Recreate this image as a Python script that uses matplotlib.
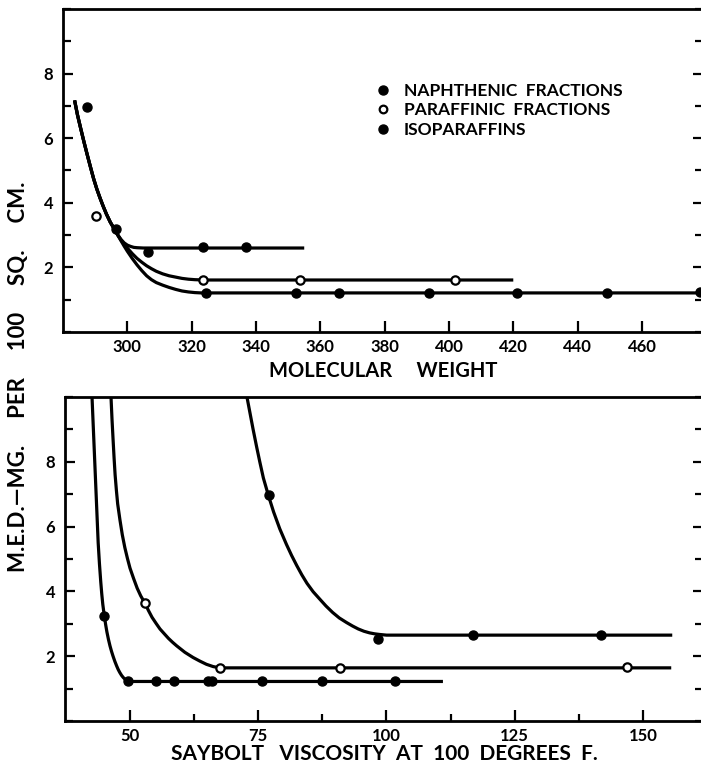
import numpy as np
import matplotlib
matplotlib.use("Agg")
import matplotlib.pyplot as plt
from matplotlib.lines import Line2D
from matplotlib.ticker import MultipleLocator

plt.rcParams['font.family'] = ['Lato', 'DejaVu Sans']
plt.rcParams['font.weight'] = 'bold'

# ---- upper panel: molecular weight ----
mw_naph_x = [287.4, 296.6, 306.5, 323.4, 337.0]
mw_naph_y = [6.97, 3.20, 2.47, 2.62, 2.62]
mw_para_x = [290.4, 323.4, 353.8, 402.0]
mw_para_y = [3.60, 1.62, 1.62, 1.62]
mw_iso_x = [324.6, 352.3, 365.8, 393.8, 421.2, 449.0, 478.0]
mw_iso_y = [1.22, 1.22, 1.22, 1.22, 1.22, 1.22, 1.24]

# fitted curves
mw_naph_curve_x = [283.6, 284.5, 285.5, 286.5, 287.5, 288.5, 289.5, 290.5, 291.5, 292.5, 293.5, 294.7, 296.0, 297.0, 298.0, 299.0, 300.0, 301.0, 302.0, 303.0, 305.0, 355.0]
mw_naph_curve_y = [7.17, 6.72, 6.30, 5.89, 5.50, 5.12, 4.75, 4.43, 4.15, 3.89, 3.65, 3.40, 3.18, 3.01, 2.87, 2.76, 2.69, 2.65, 2.62, 2.61, 2.60, 2.60]
mw_para_curve_x = [283.6, 284.5, 285.5, 286.5, 287.5, 288.5, 289.5, 290.5, 291.5, 292.5, 293.5, 294.7, 296.0, 297.0, 298.0, 299.0, 300.0, 301.5, 303.0, 304.5, 306.0, 307.5, 309.0, 311.0, 313.0, 315.0, 317.0, 319.0, 321.0, 324.0, 420.0]
mw_para_curve_y = [7.17, 6.72, 6.30, 5.89, 5.50, 5.12, 4.75, 4.43, 4.15, 3.89, 3.65, 3.40, 3.18, 3.01, 2.85, 2.72, 2.60, 2.43, 2.28, 2.16, 2.05, 1.96, 1.88, 1.80, 1.74, 1.70, 1.66, 1.635, 1.62, 1.61, 1.61]
mw_iso_curve_x = [283.6, 284.5, 285.5, 286.5, 287.5, 288.5, 289.5, 290.5, 291.5, 292.5, 293.5, 294.7, 296.0, 297.0, 298.0, 299.0, 300.0, 301.5, 303.0, 304.5, 306.0, 307.5, 309.0, 311.0, 313.0, 315.0, 317.0, 319.0, 321.0, 323.0, 325.0, 479.0]
mw_iso_curve_y = [7.17, 6.72, 6.30, 5.89, 5.50, 5.12, 4.75, 4.43, 4.15, 3.89, 3.65, 3.40, 3.18, 3.00, 2.83, 2.66, 2.50, 2.28, 2.08, 1.90, 1.74, 1.62, 1.53, 1.45, 1.38, 1.32, 1.27, 1.24, 1.22, 1.21, 1.21, 1.21]

# ---- lower panel: Saybolt viscosity ----
vis_naph_x = [77.1, 98.3, 116.8, 141.9]
vis_naph_y = [6.98, 2.53, 2.66, 2.66]
vis_para_x = [53.0, 67.6, 90.9, 146.9]
vis_para_y = [3.64, 1.63, 1.63, 1.66]
vis_iso_x = [45.0, 49.7, 55.1, 58.6, 65.2, 66.0, 75.7, 87.4, 101.6]
vis_iso_y = [3.24, 1.22, 1.22, 1.22, 1.22, 1.22, 1.22, 1.22, 1.22]

vis_naph_curve_x = [72.8, 73.4, 74.0, 74.7, 75.3, 76.0, 77.0, 78.0, 79.2, 80.5, 81.5, 82.5, 83.5, 84.5, 85.7, 87.0, 88.2, 89.5, 90.8, 92.2, 93.4, 94.5, 95.6, 96.7, 97.7, 98.7, 100.0, 155.7]
vis_naph_curve_y = [10.0, 9.50, 9.00, 8.45, 8.00, 7.50, 6.95, 6.45, 5.93, 5.45, 5.11, 4.80, 4.51, 4.25, 3.99, 3.76, 3.55, 3.35, 3.18, 3.04, 2.93, 2.84, 2.77, 2.72, 2.69, 2.67, 2.65, 2.65]
vis_para_curve_x = [46.3, 46.5, 46.7, 46.9, 47.1, 47.35, 47.6, 48.05, 48.5, 49.0, 49.5, 50.0, 50.7, 51.4, 52.1, 52.9, 53.6, 54.3, 55.1, 55.85, 56.7, 57.5, 58.3, 59.1, 59.9, 60.7, 61.5, 62.3, 63.6, 64.9, 66.2, 67.5, 155.5]
vis_para_curve_y = [10.0, 9.30, 8.70, 8.12, 7.60, 7.12, 6.70, 6.20, 5.75, 5.35, 5.02, 4.72, 4.40, 4.10, 3.86, 3.64, 3.41, 3.20, 3.01, 2.84, 2.69, 2.55, 2.43, 2.32, 2.22, 2.12, 2.04, 1.96, 1.85, 1.75, 1.68, 1.64, 1.64]
vis_iso_curve_x = [42.6, 42.8, 43.0, 43.2, 43.4, 43.6, 43.8, 44.05, 44.3, 44.5, 44.7, 44.85, 45.0, 45.25, 45.5, 45.8, 46.1, 46.4, 46.7, 47.05, 47.4, 47.7, 48.0, 48.35, 48.7, 49.1, 49.5, 50.0, 111.0]
vis_iso_curve_y = [10.0, 9.25, 8.50, 7.75, 7.00, 6.25, 5.50, 4.85, 4.30, 3.92, 3.60, 3.42, 3.25, 2.98, 2.75, 2.52, 2.32, 2.15, 2.00, 1.84, 1.70, 1.59, 1.50, 1.41, 1.34, 1.28, 1.25, 1.22, 1.22]

LW = 2.3
MS = 6.5


def style_axes(ax, xlim, major, minor, labels_at):
    ax.set_xlim(*xlim)
    ax.set_ylim(0, 10)
    ax.set_yticks([2, 4, 6, 8])
    ax.set_yticklabels(['2', '4', '6', '8'])
    ax.yaxis.set_minor_locator(MultipleLocator(1))
    ax.set_xticks(major)
    ax.set_xticklabels(labels_at)
    ax.set_xticks(minor, minor=True)
    ax.tick_params(axis='both', which='both', direction='in', width=1.6,
                   labelsize=12, colors='black')
    ax.tick_params(axis='y', which='major', length=7, pad=7, right=True)
    ax.tick_params(axis='y', which='minor', length=6, right=True)
    ax.tick_params(axis='x', which='major', length=8, pad=5)
    ax.tick_params(axis='x', which='minor', length=5)
    for s in ax.spines.values():
        s.set_linewidth(2.0)
    for lab in ax.get_xticklabels() + ax.get_yticklabels():
        lab.set_fontweight('bold')


fig = plt.figure(figsize=(7.01, 7.68), dpi=100)
ax1 = fig.add_axes([0.0899, 0.5677, 0.9130, 0.4206])
ax2 = fig.add_axes([0.0927, 0.0612, 0.9102, 0.4219])

# upper
ax1.plot(mw_naph_curve_x, mw_naph_curve_y, color='black', lw=LW, solid_joinstyle='round', solid_capstyle='butt')
ax1.plot(mw_para_curve_x, mw_para_curve_y, color='black', lw=LW, solid_joinstyle='round', solid_capstyle='butt')
ax1.plot(mw_iso_curve_x, mw_iso_curve_y, color='black', lw=LW, solid_joinstyle='round', solid_capstyle='butt')
ax1.plot(mw_naph_x, mw_naph_y, 'o', color='black', ms=MS, zorder=5)
ax1.plot(mw_para_x, mw_para_y, 'o', mfc='white', mec='black', mew=1.6, ms=MS - 0.5, zorder=5)
ax1.plot(mw_iso_x, mw_iso_y, 'o', color='black', ms=MS, zorder=5, clip_on=False)
style_axes(ax1, (280, 479), [300, 320, 340, 360, 380, 400, 420, 440, 460], [],
           ['300', '320', '340', '360', '380', '400', '420', '440', '460'])
ax1.set_xlabel('MOLECULAR     WEIGHT', fontsize=14.5, fontweight='bold', labelpad=4)

handles = [
    Line2D([], [], ls='none', marker='o', color='black', ms=6.5),
    Line2D([], [], ls='none', marker='o', mfc='white', mec='black', mew=1.6, ms=5.5),
    Line2D([], [], ls='none', marker='o', color='black', ms=6.5),
]
leg = ax1.legend(handles, ['NAPHTHENIC  FRACTIONS', 'PARAFFINIC  FRACTIONS', 'ISOPARAFFINS'],
                 loc='upper left', bbox_to_anchor=(0.465, 0.82), frameon=False,
                 handlelength=0.8, handletextpad=0.8, labelspacing=0.2,
                 prop={'size': 12.5, 'weight': 'bold'})

# lower
ax2.plot(vis_naph_curve_x, vis_naph_curve_y, color='black', lw=LW, solid_joinstyle='round', solid_capstyle='butt')
ax2.plot(vis_para_curve_x, vis_para_curve_y, color='black', lw=LW, solid_joinstyle='round', solid_capstyle='butt')
ax2.plot(vis_iso_curve_x, vis_iso_curve_y, color='black', lw=LW, solid_joinstyle='round', solid_capstyle='butt')
ax2.plot(vis_naph_x, vis_naph_y, 'o', color='black', ms=MS, zorder=5)
ax2.plot(vis_para_x, vis_para_y, 'o', mfc='white', mec='black', mew=1.6, ms=MS - 0.5, zorder=5)
ax2.plot(vis_iso_x, vis_iso_y, 'o', color='black', ms=MS, zorder=5)
style_axes(ax2, (37.33, 161.7), [50, 75, 100, 125, 150], [62.5, 87.5, 112.5, 137.5],
           ['50', '75', '100', '125', '150'])
ax2.set_xlabel('SAYBOLT   VISCOSITY  AT  100  DEGREES  F.', fontsize=15, fontweight='bold', labelpad=0)

fig.text(0.026, 0.51, 'M.E.D.\u2014MG.     PER     100     SQ.     CM.', rotation=90,
         ha='center', va='center', fontsize=16, fontweight='bold')

fig.savefig('out.png', dpi=100)
